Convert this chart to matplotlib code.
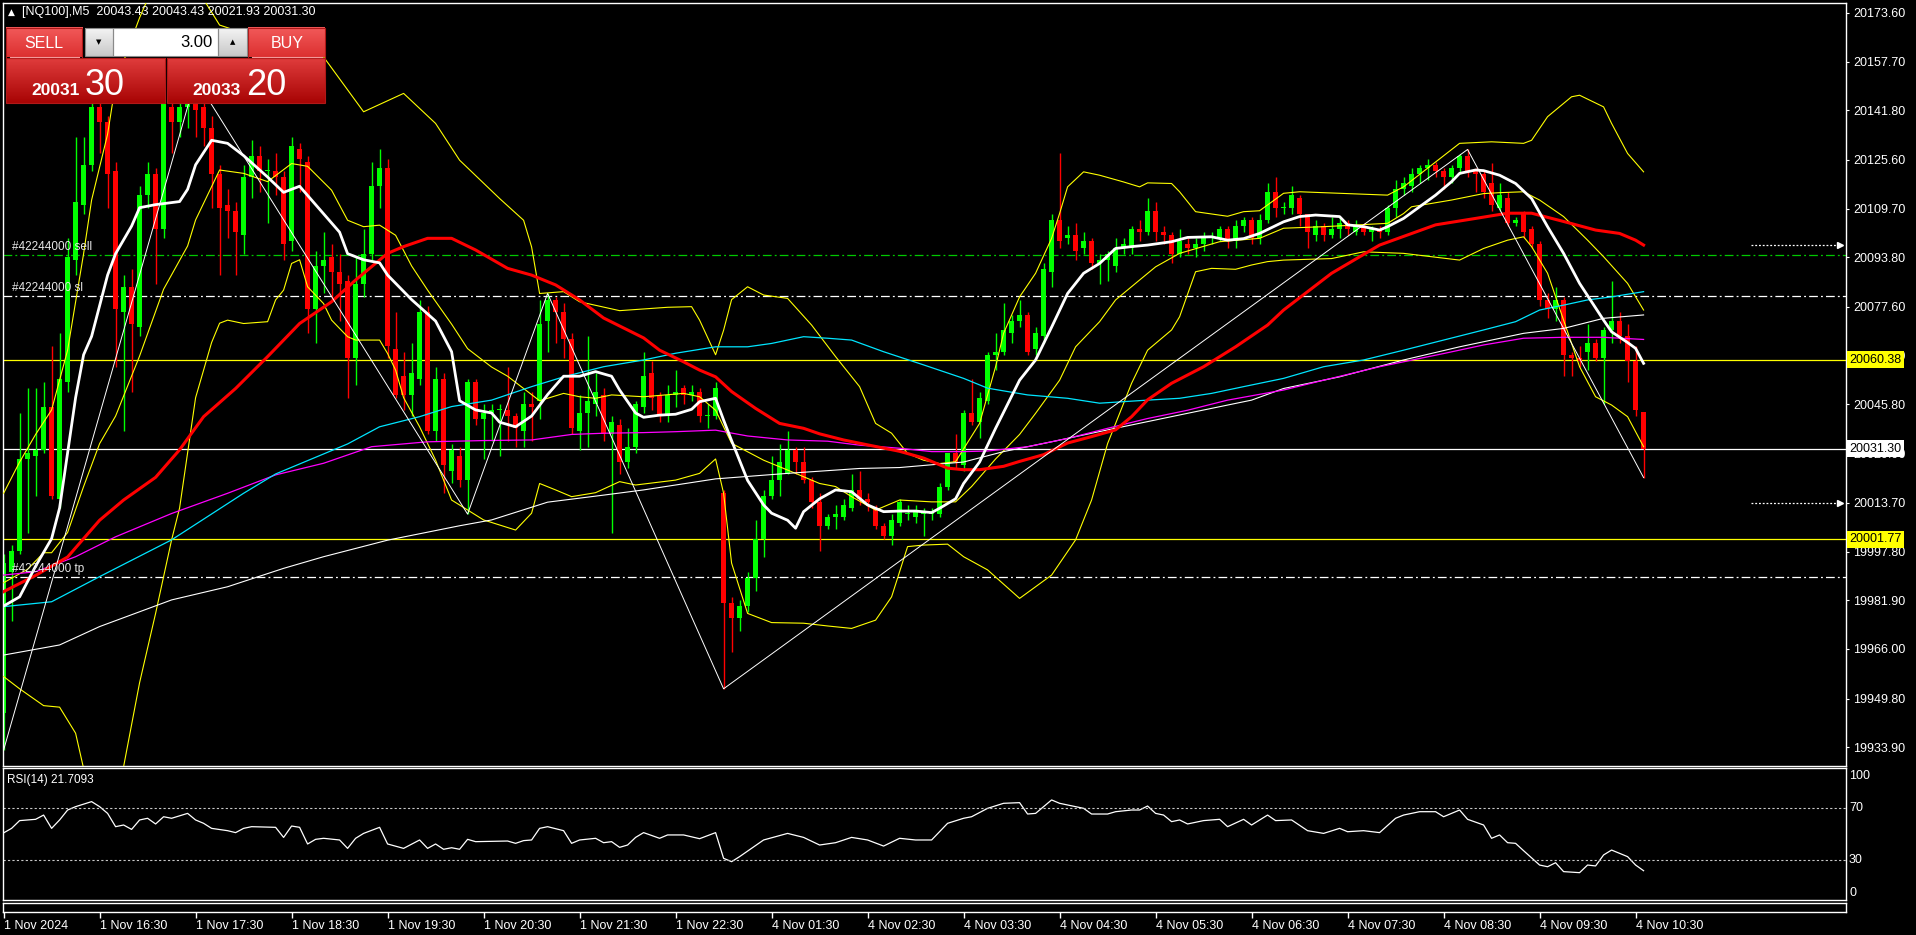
import matplotlib
matplotlib.use("Agg")
import matplotlib.pyplot as plt
import numpy as np
from matplotlib.colors import to_rgb
from matplotlib.patches import Rectangle

plt.rcParams['font.family'] = ['Liberation Sans', 'DejaVu Sans']

# ---- NQ100 M5 candles, 1 Nov 15:30 .. 4 Nov 10:35 (206 bars) ----
opens = [
    19945, 19991, 19998, 20028, 20029, 20031, 20045, 20015, 20053, 20093,
    20111, 20124, 20143, 20138, 20122, 20076, 20084, 20071, 20114, 20121,
    20103, 20143, 20138, 20143, 20144, 20143, 20136, 20121, 20111, 20109,
    20101, 20120, 20127, 20122, 20122, 20120, 20099, 20129, 20125, 20077,
    20091, 20094, 20089, 20086, 20061, 20085, 20095, 20117, 20123, 20064,
    20055, 20049, 20054, 20076, 20037, 20054, 20024, 20029, 20021, 20053,
    20041, 20043, 20044, 20044, 20042, 20037, 20046, 20047, 20073, 20080,
    20076, 20067, 20037, 20043, 20046, 20049, 20036, 20039, 20027, 20032,
    20045, 20056, 20049, 20042, 20049, 20051, 20049, 20050, 20042, 20042,
    20017, 19981, 19976, 19980, 19989, 20002, 20016, 20021, 20023, 20031,
    20027, 20021, 20014, 20006, 20009, 20009, 20012, 20018, 20015, 20012,
    20006, 20003, 20007, 20010, 20009, 20010, 20010, 20010, 20019, 20030,
    20026, 20043, 20040, 20047, 20062, 20063, 20069, 20073, 20075, 20064,
    20068, 20089, 20106, 20100, 20101, 20097, 20099, 20092, 20093, 20091,
    20097, 20097, 20103, 20102, 20109, 20102, 20101, 20095, 20098, 20097,
    20098, 20100, 20100, 20103, 20099, 20104, 20106, 20100, 20106, 20115,
    20110, 20110, 20113, 20108, 20101, 20104, 20101, 20103, 20105, 20102,
    20104, 20102, 20103, 20102, 20110, 20116, 20117, 20121, 20123, 20124,
    20122, 20120, 20123, 20127, 20122, 20121, 20118, 20110, 20113, 20105,
    20108, 20103, 20098, 20080, 20077, 20080, 20062, 20061, 20063, 20066,
    20061, 20070, 20073, 20068, 20060, 20043.43,
]
highs = [
    19997, 20000, 20043, 20051, 20051, 20053, 20065, 20069, 20100, 20133,
    20133, 20150, 20150, 20140, 20125, 20088, 20090, 20117, 20125, 20123,
    20149, 20150, 20150, 20150, 20152, 20148, 20140, 20124, 20116, 20112,
    20124, 20132, 20130, 20126, 20128, 20122, 20133, 20131, 20127, 20096,
    20102, 20098, 20095, 20088, 20094, 20103, 20125, 20129, 20126, 20076,
    20063, 20066, 20080, 20078, 20058, 20056, 20033, 20032, 20054, 20054,
    20046, 20046, 20046, 20058, 20043, 20050, 20050, 20080, 20082, 20081,
    20079, 20069, 20049, 20068, 20056, 20051, 20042, 20041, 20038, 20047,
    20063, 20060, 20050, 20052, 20057, 20052, 20052, 20051, 20046, 20053,
    20018, 19983, 19982, 19991, 20008, 20018, 20029, 20033, 20037, 20032,
    20032, 20022, 20017, 20010, 20013, 20015, 20023, 20024, 20017, 20013,
    20007, 20010, 20015, 20013, 20013, 20012, 20012, 20020, 20030, 20036,
    20044, 20054, 20050, 20063, 20069, 20079, 20075, 20080, 20076, 20071,
    20092, 20108, 20128, 20104, 20105, 20102, 20100, 20095, 20096, 20100,
    20100, 20104, 20106, 20113, 20112, 20104, 20102, 20103, 20100, 20100,
    20102, 20102, 20104, 20104, 20106, 20107, 20107, 20108, 20118, 20120,
    20112, 20117, 20114, 20108, 20106, 20105, 20107, 20107, 20106, 20106,
    20105, 20104, 20104, 20111, 20119, 20120, 20123, 20124, 20126, 20125,
    20123, 20124, 20127.5, 20129, 20123, 20122, 20124.5, 20118, 20115, 20107,
    20109, 20104, 20099, 20082, 20084, 20081, 20063, 20065, 20072, 20067,
    20071, 20086, 20076, 20072, 20065, 20043.43,
]
lows = [
    19933, 19975, 19997, 20004, 20016, 20030, 20015, 20012, 20050, 20088,
    20108, 20122, 20128, 20110, 20058, 20037, 20050, 20068, 20110, 20085,
    20100, 20128, 20133, 20136, 20133, 20130, 20110, 20088, 20100, 20088,
    20095, 20113, 20115, 20105, 20114, 20093, 20096, 20115, 20069, 20066,
    20082, 20080, 20073, 20048, 20052, 20081, 20093, 20110, 20061, 20048,
    20044, 20042, 20052, 20036, 20034, 20017, 20020, 20019, 20010, 20039,
    20028, 20034, 20029, 20034, 20032, 20032, 20034, 20041, 20063, 20066,
    20061, 20036, 20031, 20032, 20042, 20034, 20004, 20023, 20025, 20030,
    20043, 20044, 20040, 20040, 20045, 20046, 20047, 20040, 20038, 20041,
    19953, 19965, 19972, 19978, 19985, 19996, 20015, 20016, 20023, 20023,
    20020, 20012, 19998, 20005, 20005, 20008, 20011, 20013, 20011, 20005,
    20002, 20000, 20006, 20008, 20007, 20003, 20008, 20009, 20018, 20025,
    20024, 20039, 20035, 20046, 20057, 20062, 20066, 20071, 20062, 20062,
    20066, 20084, 20097, 20098, 20093, 20095, 20090, 20085, 20086, 20089,
    20095, 20095, 20099, 20101, 20099, 20098, 20092, 20094, 20095, 20094,
    20096, 20098, 20099, 20097, 20097, 20102, 20098, 20098, 20105, 20107,
    20108, 20108, 20104, 20097, 20099, 20099, 20100, 20100, 20101, 20101,
    20101, 20099, 20100, 20101, 20107, 20114, 20115, 20118, 20119, 20120,
    20116, 20118, 20121, 20120, 20115, 20113, 20109, 20109, 20104, 20104,
    20100, 20097, 20078, 20074, 20073, 20055, 20055, 20058, 20057, 20060,
    20046, 20066, 20066, 20053, 20042, 20021.93,
]
closes = [
    19994, 19998, 20028, 20030, 20031, 20045, 20016, 20054, 20094, 20112,
    20124, 20143, 20138, 20121, 20077, 20084, 20072, 20114, 20121, 20103,
    20144, 20138, 20143, 20144, 20142, 20136, 20121, 20110, 20109, 20102,
    20120, 20127, 20122, 20122, 20120, 20098, 20130, 20126, 20077, 20091,
    20093, 20089, 20085, 20061, 20085, 20095, 20117, 20123, 20065, 20049,
    20049, 20056, 20076, 20037, 20054, 20026, 20031, 20021, 20053, 20041,
    20043, 20044, 20044, 20042, 20038, 20046, 20045, 20072, 20080, 20076,
    20067, 20038, 20043, 20047, 20050, 20036, 20040, 20027, 20032, 20046,
    20055, 20048, 20042, 20049, 20050, 20049, 20050, 20042, 20042, 20051,
    19981, 19976, 19980, 19989, 20002, 20016, 20021, 20027, 20031, 20027,
    20021, 20014, 20006, 20009, 20010, 20013, 20018, 20015, 20014, 20006,
    20003, 20008, 20014, 20010, 20011, 20010, 20010, 20019, 20030, 20027,
    20043, 20040, 20048, 20062, 20063, 20070, 20073, 20075, 20063, 20069,
    20090, 20106, 20099, 20101, 20096, 20099, 20092, 20093, 20095, 20097,
    20098, 20103, 20102, 20109, 20102, 20101, 20095, 20099, 20097, 20098,
    20100, 20100, 20103, 20099, 20104, 20106, 20100, 20106, 20115, 20110,
    20110, 20114, 20108, 20102, 20104, 20101, 20103, 20105, 20103, 20104,
    20102, 20103, 20102, 20110, 20116, 20118, 20121, 20123, 20124, 20122,
    20120, 20123, 20127, 20122, 20121, 20115, 20111, 20114, 20105, 20106,
    20102, 20098, 20080, 20077, 20080, 20062, 20061, 20060, 20066, 20061,
    20070, 20073, 20068, 20060, 20044, 20031.30,
]
assert len(opens) == len(highs) == len(lows) == len(closes) == 206
ask = 20033.20

time_labels = ['1 Nov 2024', '1 Nov 16:30', '1 Nov 17:30', '1 Nov 18:30', '1 Nov 19:30',
               '1 Nov 20:30', '1 Nov 21:30', '1 Nov 22:30', '4 Nov 01:30', '4 Nov 02:30',
               '4 Nov 03:30', '4 Nov 04:30', '4 Nov 05:30', '4 Nov 06:30', '4 Nov 07:30',
               '4 Nov 08:30', '4 Nov 09:30', '4 Nov 10:30']
time_label_bars = list(range(0, 205, 12))

price_ticks = [20173.6, 20157.7, 20141.8, 20125.6, 20109.7, 20093.8, 20077.6, 20061.7,
               20045.8, 20029.9, 20013.7, 19997.8, 19981.9, 19966.0, 19949.8, 19933.9]

# ---- indicators: (bar, value) ----
fast_ma = [(0, 19980), (2, 19983), (4, 19993), (6, 20002), (7, 20012), (8, 20030), (9, 20048),
           (10, 20062), (11, 20068), (12, 20078), (13, 20088), (14, 20095), (16, 20104),
           (17, 20110), (19, 20111), (22, 20112), (23, 20116), (24, 20124), (26, 20132),
           (28, 20131), (30, 20127), (33, 20120), (35, 20115), (37, 20117), (38, 20114),
           (40, 20108), (42, 20102), (43, 20095), (45, 20093), (47, 20092), (48, 20088),
           (51, 20080), (54, 20073), (56, 20063), (57, 20047), (59, 20044), (61, 20043),
           (62, 20040), (64, 20038.5), (66, 20042), (68, 20049), (70, 20055), (72, 20055),
           (74, 20056.5), (76, 20055), (77, 20050.5), (79, 20043), (80, 20041.6), (82, 20042.3),
           (84, 20042.6), (86, 20044.2), (87, 20046.7), (89, 20047.8), (90, 20040.7),
           (91, 20034), (93, 20021), (95, 20013), (96, 20010.3), (98, 20008), (99, 20005.4),
           (100, 20010.8), (102, 20015), (104, 20017.9), (106, 20017.3), (108, 20013),
           (110, 20010.8), (112, 20011), (114, 20011), (116, 20010.5), (117, 20011.9),
           (119, 20015), (120, 20020), (122, 20027), (124, 20038), (127, 20053.7),
           (129, 20060.3), (131, 20071), (133, 20082), (135, 20088.6), (137, 20091.8),
           (139, 20096.7), (141, 20097.3), (143, 20097.8), (146, 20098.9), (148, 20100.3),
           (151, 20100.5), (153, 20099.4), (155, 20099.9), (157, 20101.6), (160, 20105.4),
           (162, 20107.1), (164, 20107.6), (167, 20107.1), (168, 20104.4), (170, 20103.8),
           (172, 20102.7), (173, 20103.8), (175, 20106.5), (177, 20110.3), (179, 20114.1),
           (181, 20118.5), (182, 20121.2), (184, 20122.3), (185, 20122.1), (187, 20120.6),
           (189, 20117.9), (191, 20113), (193, 20103.8), (195, 20095.1), (197, 20085.3),
           (200, 20073.3), (201, 20069.5), (203, 20066), (204, 20064.1), (205, 20059.2)]

slow_ma = [(0, 19984.7), (4, 19990), (8, 19996), (12, 20008), (14, 20012.4), (15, 20014.6),
           (19, 20022), (22, 20031), (25, 20041.8), (29, 20051), (33, 20061.4), (37, 20072.2),
           (41, 20079.3), (44, 20086.4), (48, 20095.1), (50, 20097.3), (53, 20100), (56, 20100),
           (59, 20096.2), (63, 20090.2), (66, 20088), (69, 20084.8), (72, 20079.9), (75, 20074),
           (80, 20067.5), (82, 20063.5), (85, 20059.7), (87, 20057), (89, 20054.8), (91, 20050),
           (94, 20044.5), (97, 20039.6), (100, 20038), (102, 20036.2), (105, 20034.2),
           (108, 20032.6), (112, 20030.5), (115, 20028.3), (118, 20025), (120, 20024.5),
           (122, 20024.5), (125, 20025.6), (127, 20027.2), (130, 20029.4), (133, 20033.2),
           (136, 20035.3), (139, 20037.5), (141, 20041.8), (143, 20047.3), (146, 20052.7),
           (150, 20058.1), (154, 20064.6), (158, 20071.7), (160, 20076.6), (166, 20088.6),
           (172, 20097.8), (179, 20104.4), (184, 20106.5), (188, 20108.2), (191, 20108.2),
           (195, 20105.5), (199, 20102.7), (202, 20101.6), (204, 20099.4), (205, 20097.8)]

cyan_ma = [(0, 19979.8), (6, 19981.4), (12, 19989.6), (21, 20001.6), (30, 20016.8), (34, 20023.1),
           (43, 20032.9), (47, 20038.5), (52, 20041.8), (56, 20045.1), (61, 20047.2), (66, 20051.6),
           (70, 20054.8), (75, 20058.1), (80, 20060.3), (84, 20062.5), (89, 20064.6), (93, 20064.6),
           (96, 20065.7), (100, 20067.9), (103, 20067.4), (106, 20066.8), (110, 20063),
           (115, 20058.7), (120, 20054.3), (123, 20051.1), (128, 20048.9), (133, 20047.8),
           (137, 20046.2), (143, 20047.2), (147, 20047.8), (151, 20049.4), (155, 20051.6),
           (160, 20054.3), (165, 20058.1), (170, 20060.3), (175, 20063.5), (180, 20066.8),
           (185, 20070.1), (189, 20072.8), (192, 20076.6), (195, 20078.2), (198, 20079.9),
           (201, 20080.9), (205, 20082.6)]

magenta_ma = [(0, 19990.1), (4, 19991.2), (9, 19996.1), (14, 20002.6), (21, 20010.2), (28, 20016.8),
              (34, 20022.8), (40, 20026.6), (46, 20032), (53, 20033.6), (60, 20034), (66, 20034.2),
              (71, 20036), (75, 20036.4), (80, 20036.6), (84, 20036.9), (89, 20037.4), (93, 20035.5),
              (98, 20034.2), (103, 20033.8), (107, 20032.5), (112, 20031.5), (116, 20030.4),
              (120, 20030.4), (123, 20030.6), (128, 20032), (133, 20034.7), (138, 20038),
              (143, 20041.2), (148, 20043.9), (153, 20047.2), (160, 20050.5), (165, 20053.7),
              (172, 20058.1), (180, 20062.4), (185, 20065.2), (190, 20067.4), (195, 20067.7),
              (200, 20067.7), (205, 20067)]

long_ma = [(0, 19964), (7, 19967.3), (12, 19973.3), (21, 19982), (28, 19986.3), (35, 19992.3),
           (40, 19996.1), (48, 20001.5), (57, 20006.2), (61, 20008.1), (68, 20013.9), (75, 20016.2),
           (80, 20017.9), (89, 20021.5), (98, 20023.3), (107, 20024.9), (112, 20025.2),
           (120, 20027), (125, 20030.4), (131, 20033.6), (136, 20036.4), (141, 20039.1),
           (148, 20042.9), (156, 20047.2), (160, 20051), (167, 20054.8), (175, 20060.3),
           (182, 20064.6), (190, 20069), (195, 20070.6), (200, 20073.9), (205, 20075)]

bb_upper = [(0, 20016.8), (2, 20027), (4, 20036), (6, 20044), (8, 20063.5), (10, 20095),
            (11, 20112.5), (13, 20134), (14, 20150.5), (16, 20165), (17, 20172), (18, 20178),
            (20, 20185), (23, 20185), (25, 20178), (27, 20169.6), (30, 20167), (35, 20163),
            (40, 20159.2), (45, 20141.3), (50, 20147.3), (54, 20137.5), (57, 20125.5), (62, 20113),
            (65, 20105.9), (66, 20097.2), (67, 20082), (70, 20082.6), (72, 20079.3), (77, 20076.4),
            (83, 20077.5), (86, 20077.7), (87, 20073.3), (89, 20062), (90, 20070), (91, 20080),
            (93, 20084.2), (95, 20081.5), (98, 20080.4), (101, 20071.7), (104, 20061.4),
            (107, 20051.6), (109, 20039.6), (111, 20036.4), (113, 20029.8), (115, 20027.6),
            (117, 20026.5), (119, 20027.1), (122, 20039.6), (124, 20058.1), (125, 20069),
            (127, 20080.9), (129, 20088.6), (131, 20100), (132, 20108.1), (133, 20116.8),
            (135, 20121.7), (137, 20120.6), (140, 20118.4), (142, 20116.8), (143, 20118.1),
            (146, 20117.9), (147, 20115.2), (149, 20108.7), (153, 20107.2), (155, 20108.7),
            (157, 20109), (160, 20114.7), (162, 20115.2), (173, 20114.1), (175, 20116.8),
            (182, 20131), (186, 20131.5), (190, 20131), (191, 20132), (193, 20139.7),
            (196, 20146.2), (197, 20146.7), (200, 20142.9), (201, 20137.5), (203, 20127.7),
            (205, 20121.7)]

bb_middle = [(0, 19987.6), (3, 19992), (5, 19997.4), (6, 19997.4), (8, 20004), (10, 20019),
             (12, 20033), (14, 20042), (17, 20061.6), (20, 20083.4), (23, 20097.5), (24, 20106),
             (27, 20122.3), (30, 20121.2), (33, 20118.5), (36, 20124.4), (38, 20123.5),
             (41, 20115.7), (43, 20105.9), (45, 20103.8), (47, 20104.3), (49, 20101), (51, 20091),
             (53, 20083.1), (56, 20072), (58, 20064), (61, 20058), (63, 20055), (65, 20051),
             (67, 20047), (70, 20049.4), (72, 20048.3), (74, 20047.8), (76, 20048.9), (80, 20048.3),
             (85, 20049.4), (87, 20048.3), (89, 20043.9), (91, 20033.1), (95, 20027.6),
             (99, 20023.3), (102, 20020), (104, 20019), (106, 20015.7), (109, 20011.3),
             (112, 20014.6), (116, 20014), (119, 20014), (121, 20019), (124, 20028), (127, 20036),
             (129, 20042.9), (132, 20053.7), (134, 20064.6), (137, 20072.8), (139, 20079.9),
             (142, 20086.4), (144, 20090.7), (147, 20095.1), (152, 20098.9), (157, 20100),
             (160, 20103.3), (165, 20103.8), (173, 20104.9), (175, 20108.1), (176, 20110.3),
             (181, 20112.5), (185, 20114.6), (187, 20114.9), (190, 20115.2), (192, 20112.5),
             (195, 20107.1), (198, 20099.4), (200, 20094), (203, 20085.3), (205, 20076.6)]

bb_lower = [(0, 19957), (2, 19953), (5, 19947.5), (7, 19947), (9, 19938.5), (10, 19927),
            (12, 19915), (14, 19920), (15, 19927.6), (17, 19955), (19, 19977.6), (21, 20001.6),
            (22, 20012), (23, 20030), (24, 20048), (26, 20066), (27, 20072.3), (28, 20073.3),
            (30, 20072.2), (33, 20072.8), (34, 20079.9), (35, 20083.1), (36, 20091.8), (37, 20093),
            (38, 20084.2), (40, 20078.7), (41, 20073.3), (43, 20067.9), (44, 20066.8), (47, 20066.8),
            (48, 20062.4), (49, 20057), (50, 20048), (52, 20038.5), (54, 20027.6), (56, 20014.6),
            (60, 20008.1), (64, 20004.8), (66, 20010.3), (67, 20020), (69, 20017.9), (71, 20015.7),
            (74, 20017), (77, 20020.6), (79, 20019.5), (84, 20021.1), (87, 20023.3), (89, 20028),
            (90, 20016.8), (91, 19994), (93, 19977.6), (96, 19974.6), (100, 19974.4),
            (103, 19973.5), (106, 19972.7), (109, 19975.4), (111, 19983), (113, 19999.4),
            (115, 19999.9), (117, 20000.1), (118, 20000.2), (120, 19996.1), (123, 19991.8),
            (127, 19982.5), (129, 19986.3), (131, 19990.1), (134, 20001.6), (136, 20014.6),
            (138, 20033), (141, 20052.7), (143, 20063.5), (146, 20070.1), (147, 20074.4),
            (149, 20089.1), (151, 20090.2), (154, 20089.9), (156, 20091.3), (158, 20092.4),
            (160, 20092.9), (166, 20093.4), (170, 20095.6), (175, 20095.1), (182, 20092.9),
            (185, 20096.7), (188, 20099.4), (190, 20100.5), (191, 20097.3), (193, 20088.6),
            (195, 20073.3), (197, 20058.1), (199, 20048.3), (201, 20045.6), (203, 20041.8),
            (205, 20032)]

# zigzag pivots: (bar, which extreme)
zigzag_pivots = [(0, 'low'), (24, 'high'), (58, 'low'), (68, 'high'), (90, 'low'),
                 (183, 'high'), (205, 'low')]

rsi = [(0, 51), (1, 54.5), (2, 60.5), (4, 61.5), (5, 64.8), (6, 54.5), (7, 61), (8, 68.7),
       (9, 71.3), (11, 75.2), (12, 71.3), (13, 66.1), (14, 55.8), (15, 57.1), (16, 53.7),
       (17, 61), (18, 62.3), (19, 57.9), (20, 63.5), (21, 62.3), (23, 66.1), (24, 61),
       (25, 58.4), (26, 54.5), (28, 52.7), (29, 51.2), (30, 54.5), (31, 55.8), (34, 55.3),
       (35, 47.5), (36, 56.3), (37, 55.3), (38, 42.4), (39, 46), (40, 46.8), (42, 45.5),
       (43, 39), (44, 46.8), (45, 50.6), (47, 55.3), (48, 42.4), (50, 39), (52, 45.5),
       (53, 39), (54, 42.4), (55, 38.3), (56, 39.5), (57, 38.3), (58, 46), (59, 44.2),
       (63, 44.7), (64, 42.9), (65, 45), (66, 45.5), (67, 54.5), (68, 55.8), (70, 52.7),
       (71, 42.9), (72, 45.5), (74, 46.8), (75, 43.4), (76, 44.2), (77, 39.8), (78, 41.6),
       (79, 47.5), (80, 51.2), (82, 46.8), (83, 49.4), (85, 49.4), (87, 46.5), (89, 51.2),
       (90, 31.3), (91, 28.7), (92, 32.6), (95, 45.5), (98, 50.6), (100, 47.5), (102, 41.6),
       (104, 43.4), (106, 47.5), (108, 45.5), (110, 40.8), (112, 46.8), (114, 45.5),
       (116, 45.5), (117, 52), (118, 58.4), (120, 62.3), (121, 63.5), (123, 70), (125, 73.9),
       (127, 74.4), (128, 65.6), (129, 66.1), (131, 76.5), (132, 73.9), (134, 71.3), (135, 70),
       (136, 65.6), (138, 65.6), (139, 67.4), (141, 68.7), (142, 68.7), (143, 71.8),
       (144, 66.1), (145, 64.8), (146, 59.7), (147, 61), (148, 57.9), (150, 60.5), (152, 61.5),
       (153, 55.8), (155, 61.5), (156, 57.1), (158, 64.8), (159, 60.5), (161, 61), (163, 52.7),
       (165, 50.6), (167, 54.5), (168, 51.9), (170, 52.7), (172, 51.2), (174, 62.3),
       (175, 64.8), (177, 67.4), (179, 67.4), (180, 63.5), (182, 68.7), (183, 61.5),
       (185, 57.1), (186, 46.8), (187, 49.4), (188, 43.4), (189, 42.9), (190, 37.2),
       (192, 26.1), (193, 24.8), (194, 27.9), (195, 21), (197, 20.2), (198, 26.1), (199, 25.4),
       (200, 33.9), (201, 37.7), (203, 32.6), (204, 26.1), (205, 21.7093)]

ticket = '42244000'
order_sell, order_sl, order_tp = 20094.4, 20081.2, 19989.4
level_lines = [20060.38, 20001.77]
arrow_levels = [20097.7, 20013.5]

# ---- layout in screen pixels ----
W, H = 1916, 935
fig = plt.figure(figsize=(W / 100, H / 100), dpi=100, facecolor='black')


def px_axes(x0, y0, x1, y1):
    a = fig.add_axes([x0 / W, 1 - y1 / H, (x1 - x0) / W, (y1 - y0) / H])
    a.set_facecolor('black')
    for s in a.spines.values():
        s.set_color('white')
        s.set_linewidth(1)
    return a


ax = px_axes(3, 3, 1845.5, 766)
rax = px_axes(3, 768.3, 1845.5, 900)
sax = px_axes(3, 902.7, 1845.5, 911.7)
for a in (ax, rax, sax):
    a.set_xlim(-0.075, 230.24)
ax.set_ylim(19927.8, 20176.8)
rax.set_ylim(-0.97, 101.0)
sax.set_ylim(0, 1)

# candles
o, h, l, c = map(np.array, (opens, highs, lows, closes))
idx = np.arange(len(c))
col = np.where(c >= o, '#00ff00', '#ff0000')
ax.vlines(idx, l, h, colors=col, lw=1, zorder=2)
ax.bar(idx, np.maximum(np.abs(c - o), 0.35), bottom=np.minimum(o, c), width=0.62,
       color=col, lw=0, zorder=2)


def line(pts, **kw):
    x, y = zip(*pts)
    ax.plot(x, y, **kw)


for band in (bb_upper, bb_middle, bb_lower):
    line(band, color='#ffff00', lw=0.8, zorder=3)
line(long_ma, color='white', lw=0.8, zorder=3)
line(magenta_ma, color='#ff00ff', lw=0.9, zorder=3)
line(cyan_ma, color='#00e5ff', lw=0.9, zorder=3)
line(slow_ma, color='#ff0000', lw=2.2, zorder=4)
line(fast_ma, color='white', lw=2.0, zorder=5)
zz = [(b, l[b] if kind == 'low' else h[b]) for b, kind in zigzag_pivots]
line(zz, color='white', lw=0.7, zorder=4)

# horizontal levels and orders
dashdot = (0, (7, 2.5, 1.5, 2.5))
ax.axhline(order_sell, color='#00c800', lw=0.9, ls=dashdot, zorder=1.5)
ax.axhline(order_sl, color='white', lw=0.9, ls=dashdot, zorder=1.5)
ax.axhline(order_tp, color='white', lw=0.9, ls=dashdot, zorder=1.5)
for lv in level_lines:
    ax.axhline(lv, color='#ffff00', lw=0.9, zorder=1.5)
ax.axhline(c[-1], color='white', lw=0.9, zorder=1.5)
for lv, name in [(order_sell, 'sell'), (order_sl, 'sl'), (order_tp, 'tp')]:
    ax.text(0.0049, lv + 0.7, f'#{ticket} {name}', transform=ax.get_yaxis_transform(),
            color='#e6e6e6', fontsize=8.5, ha='left', va='bottom', zorder=6)
for lv in arrow_levels:
    ax.plot([218.4, 229.4], [lv, lv], color='white', lw=0.9, ls=(0, (1.5, 1.5)), zorder=6)
    ax.plot([229.6], [lv], marker='>', color='white', markersize=4.5, zorder=6)

# right price scale
ax.yaxis.tick_right()
ax.set_yticks(price_ticks)
ax.set_yticklabels([f'{v:.2f}' for v in price_ticks])
ax.tick_params(axis='y', colors='white', labelsize=9, length=2.5, width=0.8, pad=3,
               direction='out')
ax.set_xticks([])


def price_tag(v, fc):
    ax.text(1.0022, v, f'{v:.2f}', transform=ax.get_yaxis_transform(), ha='left',
            va='center', fontsize=9, color='black', zorder=20, clip_on=False,
            bbox=dict(boxstyle='square,pad=0.2', fc=fc, ec='none'))


price_tag(level_lines[0], '#ffff00')
price_tag(c[-1], 'white')
price_tag(level_lines[1], '#ffff00')

# RSI window
rx, rv = zip(*rsi)
rax.plot(rx, rv, color='white', lw=0.9)
for lv in (70, 30):
    rax.axhline(lv, color='#c8c8c8', lw=0.8, ls=(0, (2, 2)))
rax.set_xticks([])
rax.set_yticks([])
rax.text(0.002, 0.911, f'RSI(14) {rv[-1]:.4f}', transform=rax.transAxes, color='white',
         fontsize=8.5, ha='left', va='center')
for v, va in [(100, 'top'), (70, 'center'), (30, 'center'), (0, 'bottom')]:
    rax.text(1.0019, v, str(v), transform=rax.get_yaxis_transform(), color='white',
             fontsize=9, ha='left', va=va, clip_on=False)

# time scale
sax.set_yticks([])
sax.set_xticks(time_label_bars)
sax.set_xticklabels(time_labels)
sax.tick_params(axis='x', colors='white', labelsize=9, length=4, width=1, direction='out',
                pad=2)
for t in sax.get_xticklabels():
    t.set_ha('left')

# title line
fig.text(8 / W, 1 - 12.5 / H, '▲', color='white', fontsize=6.5, va='center',
         family='DejaVu Sans')
fig.text(22 / W, 1 - 12.5 / H,
         f'[NQ100],M5  {o[-1]:.2f} {h[-1]:.2f} {l[-1]:.2f} {c[-1]:.2f}',
         color='white', fontsize=9, va='center')

# one-click trading panel
pan = fig.add_axes([4 / W, 1 - 105 / H, 324 / W, 79 / H])
pan.axis('off')


def grad(x0, y0, x1, y1, ctop, cbot, edge=None):
    t = np.array(to_rgb(ctop))
    b = np.array(to_rgb(cbot))
    g = np.linspace(0, 1, 60)[:, None, None]
    pan.imshow(t + (b - t) * g, extent=(x0, x1, y1, y0), aspect='auto',
               interpolation='bilinear', zorder=1)
    if edge:
        pan.add_patch(Rectangle((x0, y0), x1 - x0, y1 - y0, fill=False, ec=edge, lw=0.8,
                                zorder=2))


grad(6, 28, 82, 57.5, '#f25a5a', '#dc3030', '#b01818')
grad(248, 28, 325, 57.5, '#f25a5a', '#dc3030', '#b01818')
grad(6, 58, 165, 103, '#e03c3c', '#a80404', '#b01818')
grad(167, 58, 325, 103, '#e03c3c', '#a80404', '#b01818')
grad(85, 28, 113, 56, '#f4f4f4', '#c8c8c8', '#8a8a8a')
grad(113, 28, 218, 56, '#ffffff', '#ffffff', '#8a8a8a')
grad(218, 28, 247, 56, '#f4f4f4', '#c8c8c8', '#8a8a8a')
pan.plot([10, 79], [57, 57], color='#f39a9a', lw=0.8, zorder=3)
pan.plot([252, 322], [57, 57], color='#f39a9a', lw=0.8, zorder=3)
pan.text(44, 43, 'SELL', color='white', fontsize=11.5, ha='center', va='center', zorder=4)
pan.text(287, 43, 'BUY', color='white', fontsize=11.5, ha='center', va='center', zorder=4)
pan.text(99, 42, '▼', color='black', fontsize=5, ha='center', va='center',
         family='DejaVu Sans', zorder=4)
pan.text(232.5, 42, '▲', color='black', fontsize=5, ha='center', va='center',
         family='DejaVu Sans', zorder=4)
pan.text(213, 42.5, '3.00', color='black', fontsize=12, ha='right', va='center', zorder=4)
for price, xr in [(c[-1], 80), (ask, 241)]:
    big, small = f'{price:.2f}'.split('.')
    pan.text(xr, 95, big, color='white', fontsize=12.5, fontweight='bold', ha='right',
             va='baseline', zorder=4)
    pan.text(xr + 5, 95, small, color='white', fontsize=26, ha='left', va='baseline',
             zorder=4)
pan.set_xlim(4, 328)
pan.set_ylim(105, 26)

fig.savefig('out.png', dpi=100, facecolor='black')
